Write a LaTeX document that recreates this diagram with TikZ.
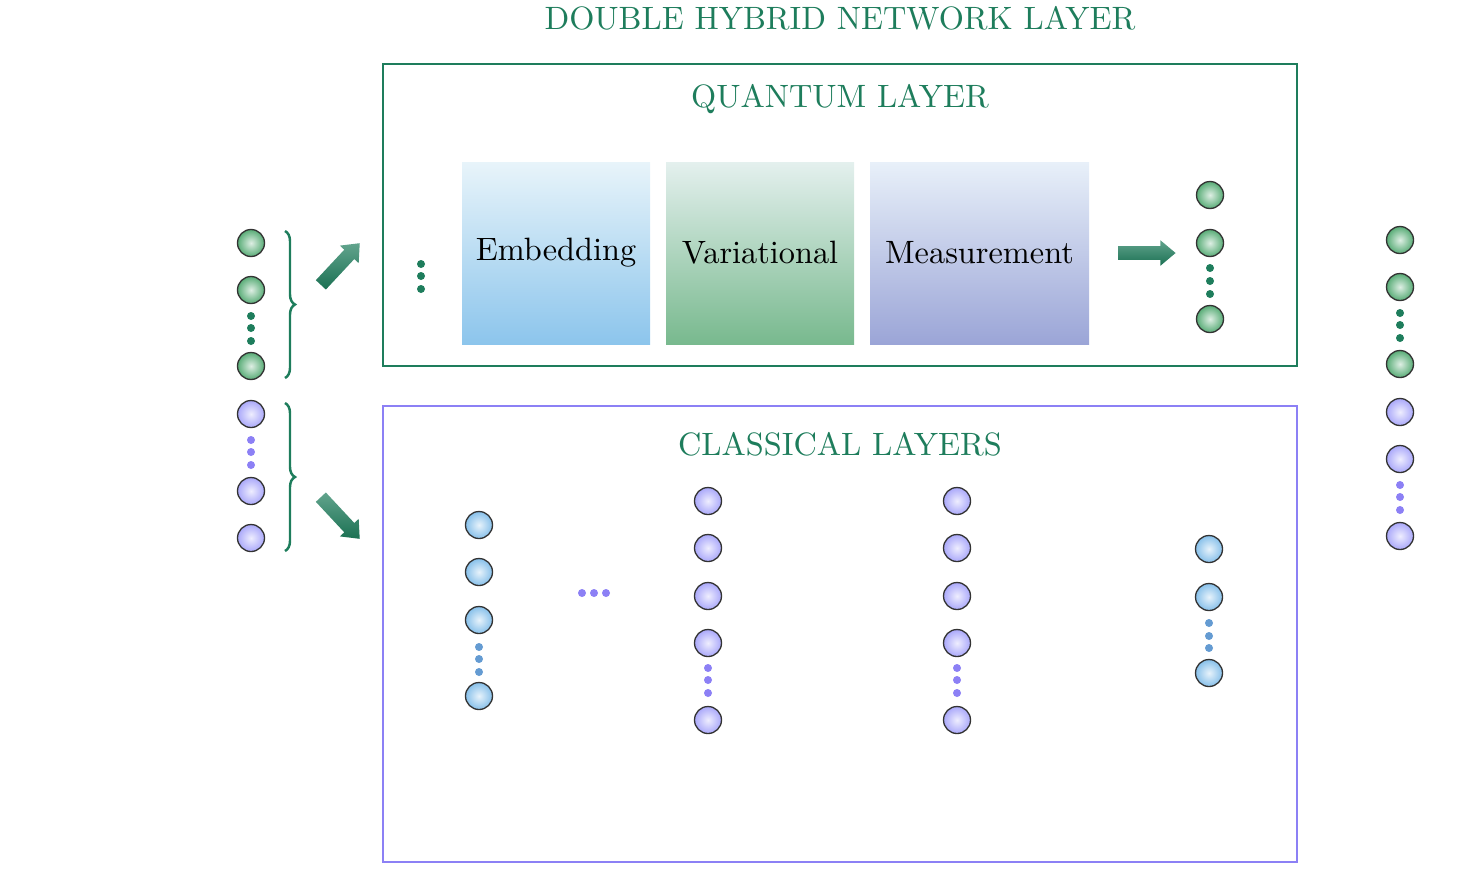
\documentclass[tikz,border=0pt]{standalone}
\usetikzlibrary{shapes.arrows,decorations.pathreplacing}
\definecolor{dgreen}{RGB}{30,125,92}
\definecolor{lpurple}{RGB}{140,128,245}
\definecolor{nblue}{RGB}{135,192,234}
\definecolor{npurple}{RGB}{170,168,250}
\definecolor{ngreen}{RGB}{88,172,118}
\definecolor{dblue}{RGB}{100,155,210}
\tikzset{
  gnode/.style={circle,draw=black!80,line width=0.75pt,minimum size=27*0.02cm,inner sep=0pt,inner color=white!80!ngreen,outer color=ngreen},
  bnode/.style={circle,draw=black!80,line width=0.75pt,minimum size=27*0.02cm,inner sep=0pt,inner color=white!80!nblue,outer color=nblue},
  pnode/.style={circle,draw=black!80,line width=0.75pt,minimum size=27*0.02cm,inner sep=0pt,inner color=white!80!npurple,outer color=npurple},
  gdot/.style={circle,fill=dgreen,minimum size=8*0.02cm,inner sep=0pt},
  pdot/.style={circle,fill=lpurple,minimum size=8*0.02cm,inner sep=0pt},
  bdot/.style={circle,fill=dblue,minimum size=8*0.02cm,inner sep=0pt},
  lbl/.style={text=dgreen,font=\normalsize,scale=1.84},
  blk/.style={font=\normalsize,text=black},
  fatarrow/.style={single arrow,draw=none,minimum height=57*0.02cm,inner sep=6.5*0.02cm,single arrow head extend=6*0.02cm,single arrow tip angle=80,top color=dgreen!70!white,bottom color=dgreen!90!black},
  mybrace/.style={draw=dgreen,line width=1.4pt,decorate,decoration={brace,amplitude=10*0.02cm}},
}
\begin{document}
\begin{tikzpicture}[x=0.02cm,y=-0.02cm]
\useasboundingbox (0,0) rectangle (1460,870);
% title
\node[lbl] (title) at (840,18) {DOUBLE HYBRID NETWORK LAYER};
% quantum box
\node[draw=dgreen,line width=1.6pt,minimum width=914*0.02cm,minimum height=302*0.02cm,inner sep=0pt] (qbox) at (840,215) {};
\node[lbl] (qlbl) at (840,99) {QUANTUM LAYER};
% classical box
\node[draw=lpurple,line width=1.6pt,minimum width=914*0.02cm,minimum height=456*0.02cm,inner sep=0pt] (cbox) at (840,634) {};
\node[lbl] (clbl) at (840,444) {CLASSICAL LAYERS};
% blocks
\node[minimum width=188*0.02cm,minimum height=182*0.02cm,inner sep=0pt,top color={rgb,255:red,232;green,244;blue,250},bottom color={rgb,255:red,140;green,197;blue,236}] (emb) at (556,253) {};
\node[minimum width=188*0.02cm,minimum height=182*0.02cm,inner sep=0pt,top color={rgb,255:red,228;green,240;blue,238},bottom color={rgb,255:red,120;green,185;blue,142}] (var) at (760,253) {};
\node[minimum width=219*0.02cm,minimum height=182*0.02cm,inner sep=0pt,top color={rgb,255:red,232;green,240;blue,249},bottom color={rgb,255:red,155;green,165;blue,215}] (mea) at (979.5,253) {};
\node[blk,scale=1.84] (embt) at (emb.center) {Embedding};
\node[blk,scale=1.84] (vart) at (var.center) {Variational};
\node[blk,scale=1.84] (meat) at (mea.center) {Measurement};
% dots before embedding
\node[gdot] (qd1) at (421,264) {};
\node[gdot] (qd2) at (421,276) {};
\node[gdot] (qd3) at (421,289) {};
% arrow to outputs
\node[fatarrow] (qarr) at (1143,253) {};
% quantum outputs
\node[gnode] (qo1) at (1210,195) {};
\node[gnode] (qo2) at (1210,243) {};
\node[gdot] (qod1) at (1210,268) {};
\node[gdot] (qod2) at (1210,281) {};
\node[gdot] (qod3) at (1210,294) {};
\node[gnode] (qo3) at (1210,319) {};
% left inputs
\node[gnode] (i1) at (251,243) {};
\node[gnode] (i2) at (251,290) {};
\node[gdot] (id1) at (251,316) {};
\node[gdot] (id2) at (251,328) {};
\node[gdot] (id3) at (251,341) {};
\node[gnode] (i3) at (251,366) {};
\node[pnode] (i4) at (251,414) {};
\node[pdot] (id4) at (251,440) {};
\node[pdot] (id5) at (251,452) {};
\node[pdot] (id6) at (251,465) {};
\node[pnode] (i5) at (251,491) {};
\node[pnode] (i6) at (251,538) {};
% braces
\coordinate (b1t) at (285,231);
\coordinate (b1b) at (285,378);
\coordinate (b2t) at (285,403);
\coordinate (b2b) at (285,551);
\draw[mybrace] (b1t) -- (b1b);
\draw[mybrace] (b2t) -- (b2b);
% diagonal arrows
\node[fatarrow,rotate=47] (a1) at (337.5,267) {};
\node[fatarrow,rotate=-47] (a2) at (337.5,515) {};
% classical columns
\node[bnode] (c11) at (479,525) {};
\node[bnode] (c12) at (479,572) {};
\node[bnode] (c13) at (479,620) {};
\node[bdot] (c1d1) at (479,647) {};
\node[bdot] (c1d2) at (479,659) {};
\node[bdot] (c1d3) at (479,672) {};
\node[bnode] (c14) at (479,696) {};
\node[pdot] (h1) at (582,593) {};
\node[pdot] (h2) at (594,593) {};
\node[pdot] (h3) at (606,593) {};
\foreach \x/\n in {708/c2,957/c3}{
  \node[pnode] (\n1) at (\x,501) {};
  \node[pnode] (\n2) at (\x,548) {};
  \node[pnode] (\n3) at (\x,596) {};
  \node[pnode] (\n4) at (\x,643) {};
  \node[pdot] (\n d1) at (\x,668) {};
  \node[pdot] (\n d2) at (\x,680) {};
  \node[pdot] (\n d3) at (\x,693) {};
  \node[pnode] (\n5) at (\x,720) {};
}
\node[bnode] (c41) at (1209,549) {};
\node[bnode] (c42) at (1209,597) {};
\node[bdot] (c4d1) at (1209,623) {};
\node[bdot] (c4d2) at (1209,636) {};
\node[bdot] (c4d3) at (1209,648) {};
\node[bnode] (c43) at (1209,673) {};
% right outputs
\node[gnode] (o1) at (1400,240) {};
\node[gnode] (o2) at (1400,287) {};
\node[gdot] (od1) at (1400,313) {};
\node[gdot] (od2) at (1400,325) {};
\node[gdot] (od3) at (1400,338) {};
\node[gnode] (o3) at (1400,364) {};
\node[pnode] (o4) at (1400,412) {};
\node[pnode] (o5) at (1400,459) {};
\node[pdot] (od4) at (1400,485) {};
\node[pdot] (od5) at (1400,497) {};
\node[pdot] (od6) at (1400,510) {};
\node[pnode] (o6) at (1400,536) {};
\end{tikzpicture}
\end{document}
